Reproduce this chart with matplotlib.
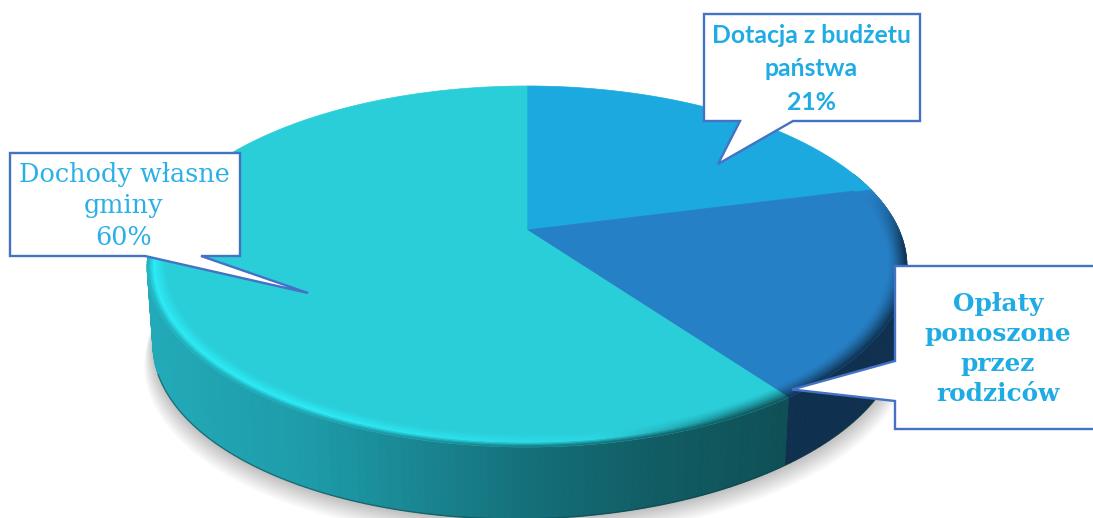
import numpy as np
import matplotlib
matplotlib.use("Agg")
import matplotlib.pyplot as plt
from matplotlib.collections import PolyCollection
from matplotlib.patches import Polygon
from matplotlib.colors import to_rgb

# ---- data ----
categories = ["Dotacja z budżetu\npaństwa", "Opłaty\nponoszone\nprzez\nrodziców", "Dochody własne\ngminy"]
shares = [21, 19, 60]
share_labels = ["21%", "", "60%"]
face_colors = ["#1BA9DF", "#2680C6", "#2ACED9"]
rim_colors = ["#1BA9DF", "#10304F", "#1E9FAD"]

# ---- projection of a tilted disc (perspective) ----
CX, CY = 527, 230
C, A, D = -0.202, 173.1, 372.1


def project(r, deg):
    t = np.radians(deg)
    u, v = r * np.sin(t), -r * np.cos(t)
    w = 1 + C * v
    return CX + D * u / w, CY + A * v / w


def depth(x):
    return 72 - (x - CX) * 0.015


def mix(a, b, f):
    a, b = np.array(to_rgb(a)), np.array(to_rgb(b))
    return tuple(a + (b - a) * np.clip(f, 0, 1))


fig = plt.figure(figsize=(10.93, 5.18), dpi=100)
ax = fig.add_axes([0, 0, 1, 1])
ax.set_xlim(0, 1093)
ax.set_ylim(518, 0)
ax.axis("off")

edges = np.cumsum([0] + shares) / sum(shares) * 360
th_all = np.linspace(0, 360, 361)

# soft shadow beneath the disc
ox, oy = project(1.0, th_all)
for k in range(16, 0, -1):
    sx = CX + (ox - CX) * (0.982 + k * 0.0016)
    sy = oy + depth(ox) + k * 1.3
    ax.fill(sx, sy, color="#000000", alpha=0.015, lw=0, zorder=1)

# side wall
wall_x = [150, 300, 400, 530, 650, 795]
wall_c = ["#22AAB8", "#1E9CAA", "#1A8A96", "#146F79", "#115D65", "#0F4F55"]
quads, cols = [], []
ths = np.arange(70, 291, 1.0)
for a0, a1 in zip(ths[:-1], ths[1:]):
    x0, y0 = project(1.0, a0)
    x1, y1 = project(1.0, a1)
    bx0 = CX + (x0 - CX) * 0.985
    bx1 = CX + (x1 - CX) * 0.985
    quads.append([(x0, y0), (x1, y1), (bx1, y1 + depth(x1)), (bx0, y0 + depth(x0))])
    if a0 < edges[2]:
        cols.append("#10304F")
    else:
        xm = (x0 + x1) / 2
        cols.append(tuple(np.interp(xm, wall_x, [to_rgb(c)[i] for c in wall_c]) for i in range(3)))
ax.add_collection(PolyCollection(quads, facecolors=cols, edgecolors=cols, linewidths=0.6, zorder=2))

# dark line along the lower edge of the wall
lt = np.arange(90, 250, 1.0)
lx, ly = project(1.0, lt)
ax.plot(CX + (lx - CX) * 0.985, ly + depth(lx), color="#0B3A40", lw=1.0, alpha=0.5, zorder=3)

# top faces
for i, col in enumerate(face_colors):
    t = np.linspace(edges[i], edges[i + 1], 200)
    x, y = project(1.0, t)
    ax.add_patch(Polygon(np.c_[np.r_[CX, x], np.r_[CY, y]], closed=True,
                         fc=col, ec=col, lw=0.5, zorder=4))

# bevelled rim
quads, cols = [], []
rs = np.linspace(0.952, 1.0, 11)
ths = np.arange(70, 300, 1.0)
for a0, a1 in zip(ths[:-1], ths[1:]):
    am = (a0 + a1) / 2
    if am < edges[2]:
        i = 1 if am >= edges[1] else 0
        fade = np.clip((am - edges[1] - 2) / 18, 0, 1)
        hl = 0
    else:
        i = 2
        fade = np.clip((299 - am) / 25, 0, 1)
        hl = np.clip((am - edges[2] - 8) / 55, 0, 1)
    for j, (r0, r1) in enumerate(zip(rs[:-1], rs[1:])):
        f = (j + 0.5) / (len(rs) - 1)
        if i == 2:
            xm = project(1.0, am)[0]
            dark = tuple(np.interp(xm, wall_x, [to_rgb(c)[k] for c in wall_c]) for k in range(3))
            lit = mix(face_colors[2], "#2DEBF5", hl)
            c = mix(face_colors[2], lit, f / 0.65) if f < 0.65 else mix(lit, dark, (f - 0.65) / 0.35)
            if hl < 0.35:
                c = mix(c, mix(face_colors[2], dark, f ** 1.4), 1 - hl / 0.35)
        else:
            c = mix(face_colors[i], rim_colors[i], f ** 1.4)
        c = mix(face_colors[i], c, fade)
        x00, y00 = project(r0, a0)
        x01, y01 = project(r1, a0)
        x11, y11 = project(r1, a1)
        x10, y10 = project(r0, a1)
        quads.append([(x00, y00), (x01, y01), (x11, y11), (x10, y10)])
        cols.append(c)
ax.add_collection(PolyCollection(quads, facecolors=cols, edgecolors=cols, linewidths=0.4, zorder=5))

# callouts
EDGE = "#4472C4"
callouts = [
    [(704, 14), (920, 14), (920, 121), (793, 121), (718, 164), (740, 121), (704, 121)],
    [(1100, 266), (895, 266), (895, 361), (792, 389.5), (895, 401), (895, 429), (1100, 429)],
    [(10, 153), (240, 153), (240, 256), (201, 256), (308, 293), (145, 256), (10, 256)],
]
for pts in callouts:
    ax.add_patch(Polygon(pts, closed=True, fc="white", ec=EDGE, lw=1.7, joinstyle="miter", zorder=6))

TXT = "#2AB0E6"


def label(i):
    return categories[i] + ("\n" + share_labels[i] if share_labels[i] else "")


ax.text(811, 69, label(0), ha="center", va="center", color="#1FABE3", family="Lato",
        weight="bold", fontsize=17.8, linespacing=1.54, zorder=7)
ax.text(998, 349, label(1), ha="center", va="center", color="#1FABE3", family="DejaVu Serif",
        weight="bold", fontsize=17.8, linespacing=1.32, zorder=7)
ax.text(124, 206, label(2), ha="center", va="center", color=TXT, family="DejaVu Serif",
        fontsize=18.4, linespacing=1.33, zorder=7)

fig.savefig("out.png", dpi=100)
